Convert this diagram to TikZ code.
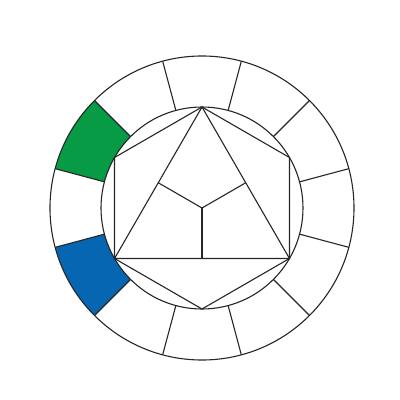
\documentclass[tikz,border=0pt]{standalone}
\usepackage{tikz}
\usetikzlibrary{calc}

\definecolor{ittengreen}{RGB}{6,155,68}
\definecolor{ittenblue}{RGB}{6,102,178}

\begin{document}
\begin{tikzpicture}[
  x=1pt, y=1pt,
  edge/.style={draw=black!85, line width=1.1pt, line join=round},
  segment/.style={edge}
]
\useasboundingbox (-202,-192) rectangle (198,208);

% colour wheel ring
\fill[ittengreen] (135:101) arc (135:165:101) -- (165:152) arc (165:135:152) -- cycle;
\fill[ittenblue] (195:101) arc (195:225:101) -- (225:152) arc (225:195:152) -- cycle;
\draw[edge] (0,0) circle (152);
\draw[edge] (0,0) circle (101);
\foreach \a in {15,45,...,345}
  \draw[segment] (\a:101) -- (\a:152);

% inner hexagon and triangle
\foreach \a/\name in {90/top,150/upleft,210/lowleft,270/bottom,330/lowright,30/upright}
  \coordinate (\name) at (\a:101);
\coordinate (mid) at (0,0);
\draw[edge] (top) -- (upleft) -- (lowleft) -- (bottom) -- (lowright) -- (upright) -- cycle;
\draw[edge] (top) -- (lowleft) -- (lowright) -- cycle;
\draw[edge] (mid) -- ($(top)!0.5!(lowleft)$);
\draw[edge] (mid) -- ($(top)!0.5!(lowright)$);
\draw[edge] (mid) -- ($(lowleft)!0.5!(lowright)$);
\end{tikzpicture}
\end{document}
